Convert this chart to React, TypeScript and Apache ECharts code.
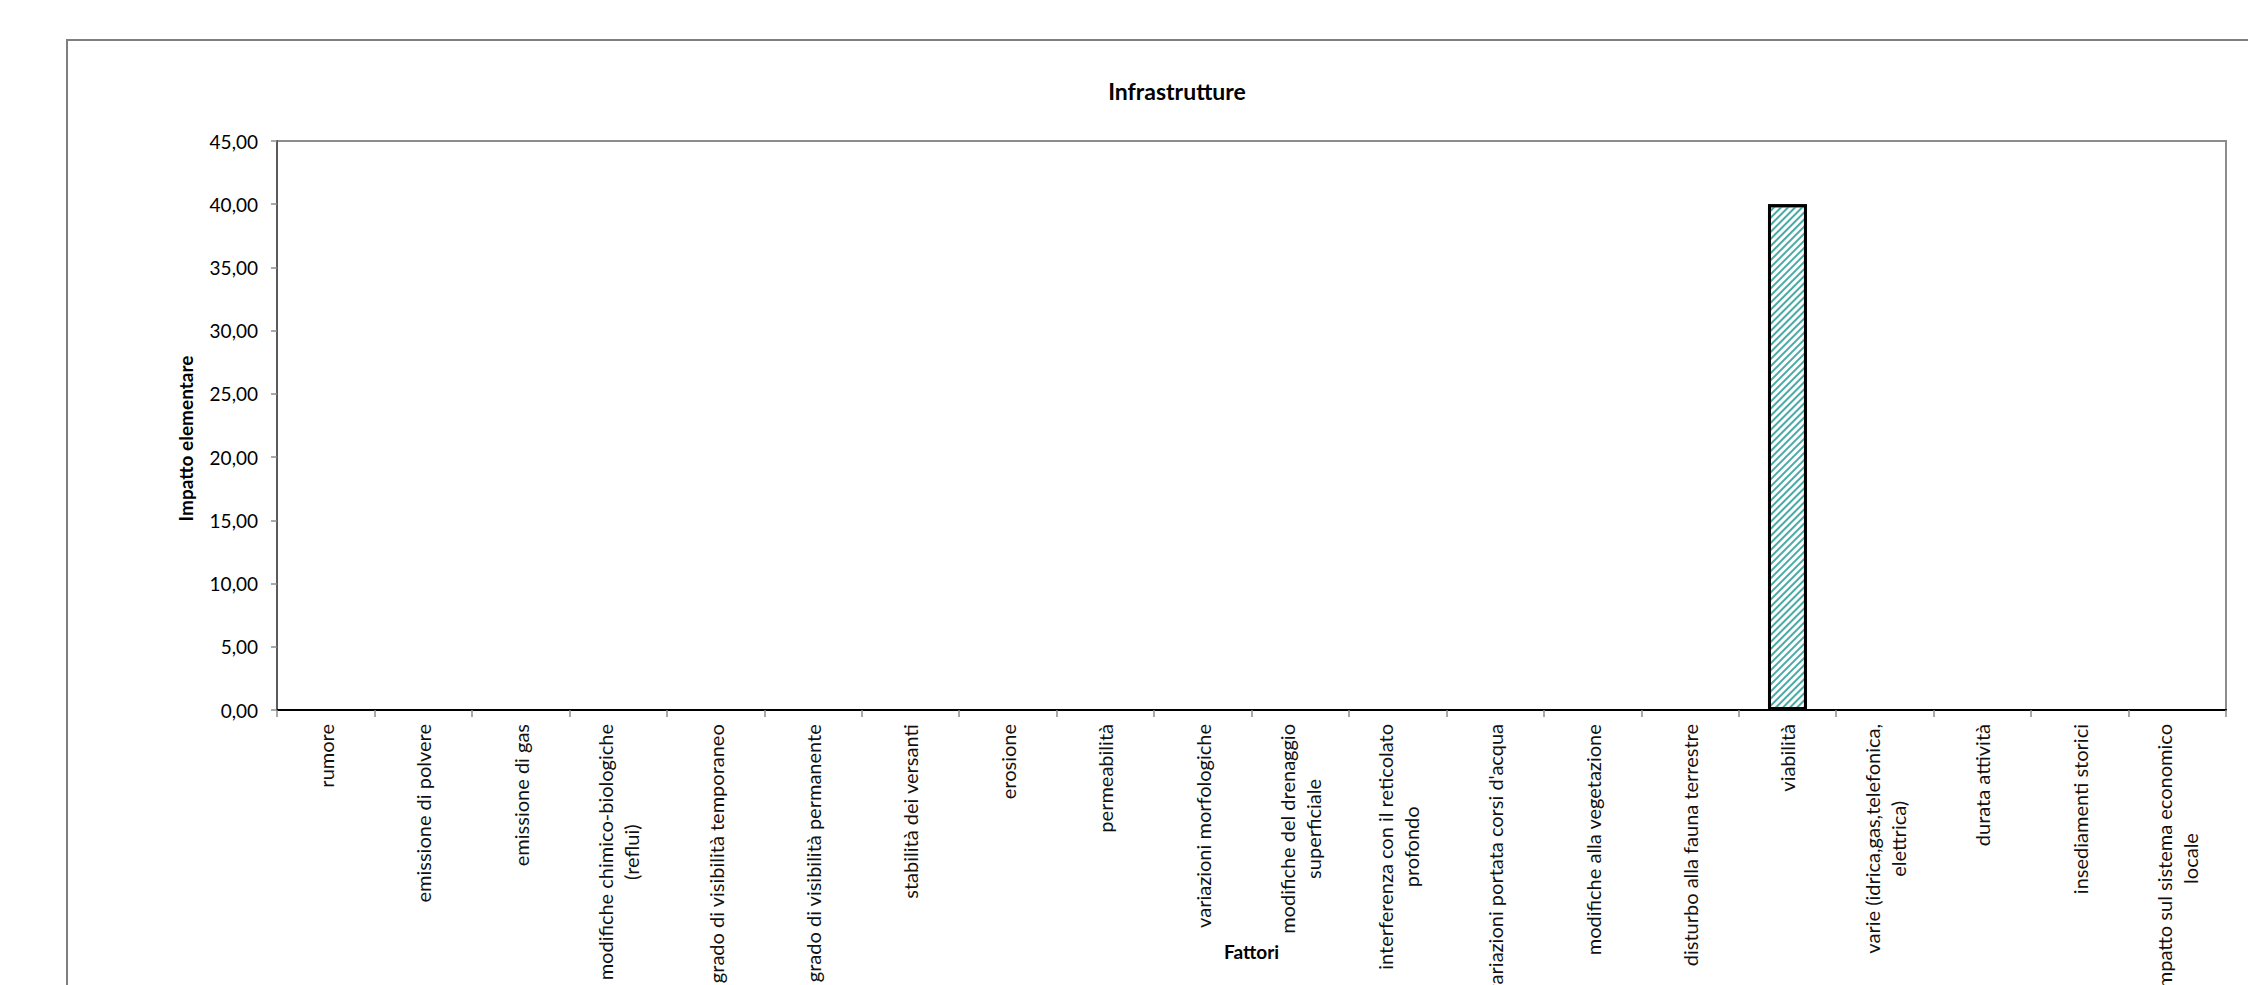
import React, { useEffect, useRef } from "react";
import * as echarts from "echarts";

const chartTitle = "Infrastrutture";
const yAxisTitle = "Impatto elementare";
const xAxisTitle = "Fattori";

const categories: string[] = [
  "rumore",
  "emissione di polvere",
  "emissione di gas",
  "modifiche chimico-biologiche\n(reflui)",
  "grado di visibilità temporaneo",
  "grado di visibilità permanente",
  "stabilità dei versanti",
  "erosione",
  "permeabilità",
  "variazioni morfologiche",
  "modifiche del drenaggio\nsuperficiale",
  "interferenza con il reticolato\nprofondo",
  "variazioni portata corsi d'acqua",
  "modifiche alla vegetazione",
  "disturbo alla fauna terrestre",
  "viabilità",
  "varie (idrica,gas,telefonica,\nelettrica)",
  "durata attività",
  "insediamenti storici",
  "impatto sul sistema economico\nlocale",
];

const impactValues: number[] = [0, 0, 0, 0, 0, 0, 0, 0, 0, 0, 0, 0, 0, 0, 0, 40, 0, 0, 0, 0];

const yMin = 0;
const yMax = 45;
const yStep = 5;

const FONT = "Lato, 'Open Sans', sans-serif";

export default function App() {
  const ref = useRef<HTMLDivElement>(null);

  useEffect(() => {
    document.body.style.margin = "0";
    if (!ref.current) return;
    const chart = echarts.init(ref.current, undefined, { renderer: "svg" });

    const option: any = {
      animation: false,
      backgroundColor: "#ffffff",
      title: {
        text: chartTitle,
        left: 1172,
        top: 74,
        textAlign: "center",
        textStyle: { fontFamily: FONT, fontSize: 23, fontWeight: "bold", color: "#000" },
      },
      graphic: [
        {
          type: "rect",
          silent: true,
          z: -10,
          shape: { x: 67, y: 40, width: 2400, height: 1200 },
          style: { fill: "none", stroke: "#7f7f7f", lineWidth: 2 },
        },
      ],
      grid: {
        left: 277,
        top: 141,
        right: 22,
        bottom: 275,
        containLabel: false,
        outerBoundsMode: "none",
        show: true,
        borderColor: "#8c8c8c",
        borderWidth: 2,
        backgroundColor: "#ffffff",
      },
      xAxis: {
        type: "category",
        data: categories,
        name: xAxisTitle,
        nameLocation: "middle",
        nameGap: 232,
        nameMoveOverlap: false,
        nameTextStyle: { fontFamily: FONT, fontSize: 19, fontWeight: "bold", color: "#000" },
        axisLine: { show: true, lineStyle: { color: "#000", width: 2 } },
        axisTick: { show: true, length: 7, lineStyle: { color: "#8c8c8c", width: 1.5 } },
        axisLabel: {
          interval: 0,
          rotate: 90,
          margin: 14,
          fontFamily: FONT,
          fontSize: 20,
          color: "#111",
          formatter: (v: string) =>
            v
              .split("\n")
              .map((s) => `{c|${s}}`)
              .join("\n"),
          rich: {
            c: { align: "center", fontFamily: FONT, fontSize: 20, color: "#111", lineHeight: 26 },
          },
        },
        splitLine: { show: false },
      },
      yAxis: {
        type: "value",
        min: yMin,
        max: yMax,
        interval: yStep,
        name: yAxisTitle,
        nameLocation: "middle",
        nameGap: 82,
        nameMoveOverlap: false,
        nameTextStyle: {
          fontFamily: FONT,
          fontSize: 19,
          fontWeight: "bold",
          color: "#000",
          padding: [0, 26, 0, 0],
        },
        axisLine: { show: true, lineStyle: { color: "#5a5a5a", width: 2 } },
        axisTick: { show: true, length: 6, lineStyle: { color: "#8c8c8c", width: 1.5 } },
        axisLabel: {
          margin: 19,
          fontFamily: FONT,
          fontSize: 19,
          color: "#000",
          formatter: (v: number) => v.toFixed(2).replace(".", ","),
        },
        splitLine: { show: false },
      },
      series: [
        {
          type: "bar",
          barWidth: "40%",
          data: impactValues.map((v) =>
            v === 0 ? { value: v, itemStyle: { borderWidth: 0 } } : v
          ),
          itemStyle: {
            color: "#ffffff",
            borderColor: "#000",
            borderWidth: 3,
            decal: {
              symbol: "rect",
              symbolSize: 1,
              dashArrayX: [1, 0],
              dashArrayY: [2, 2.5],
              rotation: -Math.PI / 4,
              color: "#4aaaa6",
            },
          },
        },
      ],
    };

    chart.setOption(option);
    return () => chart.dispose();
  }, []);

  return <div ref={ref} style={{ width: 2248, height: 985 }} />;
}
